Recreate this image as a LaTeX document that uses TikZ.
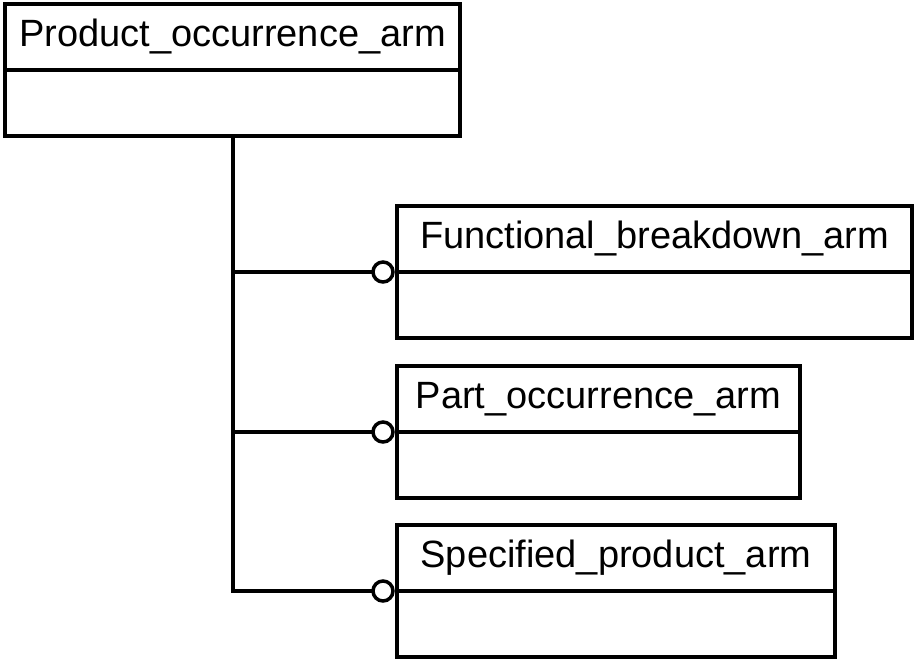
\documentclass[tikz,border=0pt]{standalone}
\usepackage{fontspec}
\setmainfont{Liberation Sans}
\begin{document}
\begin{tikzpicture}[x=1pt,y=-1pt,line width=4.5pt,
  umlbox/.style={draw,line width=4.5pt,inner sep=0pt,outer sep=0pt,minimum height=132pt},
  umltitle/.style={anchor=base,inner sep=0pt,font=\fontsize{38}{45}\selectfont},
  lollipop/.style={circle,draw,line width=3.5pt,inner sep=0pt,outer sep=0pt,minimum size=20pt,fill=white},
  link/.style={line width=4pt,line join=miter}]
\useasboundingbox (0,0) rectangle (915,661);
% boxes
\node[umlbox,minimum width=455pt] (pa) at (232.5,70) {};
\node[umlbox,minimum width=515pt] (fb) at (654.5,272) {};
\node[umlbox,minimum width=403pt] (po) at (598.5,432) {};
\node[umlbox,minimum width=438pt] (sp) at (616,591) {};
% dividers
\draw (pa.west) -- (pa.east);
\draw (fb.west) -- (fb.east);
\draw (po.west) -- (po.east);
\draw (sp.west) -- (sp.east);
% titles
\node[umltitle] (pat) at ([yshift=23.5pt]pa.center) {Product\_occurrence\_arm};
\node[umltitle] (fbt) at ([yshift=24pt]fb.center) {Functional\_breakdown\_arm};
\node[umltitle] (pot) at ([yshift=24pt]po.center) {Part\_occurrence\_arm};
\node[umltitle] (spt) at ([yshift=24pt]sp.center) {Specified\_product\_arm};
% lollipops
\node[lollipop] (c1) at (383,272) {};
\node[lollipop] (c2) at (383,432) {};
\node[lollipop] (c3) at (383,591) {};
\coordinate (j1) at (pa.south |- c1);
\coordinate (j2) at (pa.south |- c2);
\coordinate (j3) at (pa.south |- c3);
\draw[link] (pa.south) -- (j3) -- (c3.west);
\draw[link] (j1) -- (c1.west);
\draw[link] (j2) -- (c2.west);
\end{tikzpicture}
\end{document}
